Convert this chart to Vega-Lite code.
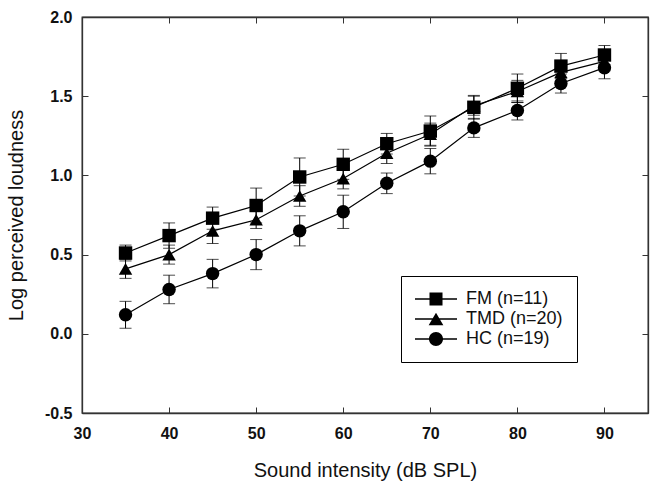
{
  "$schema": "https://vega.github.io/schema/vega-lite/v6.json",
  "width": 566,
  "height": 396,
  "autosize": "none",
  "padding": {"left": 82, "top": 17, "right": 14, "bottom": 73},
  "background": "white",
  "config": {
    "view": {"stroke": "#333333", "strokeWidth": 1.3},
    "font": "Liberation Sans",
    "axis": {
      "grid": false,
      "domainColor": "#333333",
      "domainWidth": 1.3,
      "tickColor": "#333333",
      "tickWidth": 1,
      "labelFlush": false,
      "labelOverlap": false,
      "labelFont": "Liberation Sans",
      "labelFontSize": 16,
      "labelFontWeight": "bold",
      "labelColor": "#111111",
      "titleFont": "Liberation Sans",
      "titleFontSize": 20,
      "titleFontWeight": "normal",
      "titleColor": "#111111"
    }
  },
  "data": {
    "values": [
      {"dB": 35, "group": "FM (n=11)", "value": 0.51, "err": 0.05},
      {"dB": 40, "group": "FM (n=11)", "value": 0.62, "err": 0.08},
      {"dB": 45, "group": "FM (n=11)", "value": 0.73, "err": 0.07},
      {"dB": 50, "group": "FM (n=11)", "value": 0.81, "err": 0.11},
      {"dB": 55, "group": "FM (n=11)", "value": 0.99, "err": 0.12},
      {"dB": 60, "group": "FM (n=11)", "value": 1.07, "err": 0.095},
      {"dB": 65, "group": "FM (n=11)", "value": 1.2, "err": 0.065},
      {"dB": 70, "group": "FM (n=11)", "value": 1.28, "err": 0.095},
      {"dB": 75, "group": "FM (n=11)", "value": 1.43, "err": 0.075},
      {"dB": 80, "group": "FM (n=11)", "value": 1.55, "err": 0.09},
      {"dB": 85, "group": "FM (n=11)", "value": 1.69, "err": 0.08},
      {"dB": 90, "group": "FM (n=11)", "value": 1.76, "err": 0.06},
      {"dB": 35, "group": "TMD (n=20)", "value": 0.41, "err": 0.06},
      {"dB": 40, "group": "TMD (n=20)", "value": 0.5, "err": 0.06},
      {"dB": 45, "group": "TMD (n=20)", "value": 0.65, "err": 0.08},
      {"dB": 50, "group": "TMD (n=20)", "value": 0.72, "err": 0.055},
      {"dB": 55, "group": "TMD (n=20)", "value": 0.87, "err": 0.065},
      {"dB": 60, "group": "TMD (n=20)", "value": 0.98, "err": 0.065},
      {"dB": 65, "group": "TMD (n=20)", "value": 1.14, "err": 0.065},
      {"dB": 70, "group": "TMD (n=20)", "value": 1.26, "err": 0.07},
      {"dB": 75, "group": "TMD (n=20)", "value": 1.44, "err": 0.06},
      {"dB": 80, "group": "TMD (n=20)", "value": 1.53, "err": 0.07},
      {"dB": 85, "group": "TMD (n=20)", "value": 1.65, "err": 0.07},
      {"dB": 90, "group": "TMD (n=20)", "value": 1.72, "err": 0.06},
      {"dB": 35, "group": "HC (n=19)", "value": 0.12, "err": 0.085},
      {"dB": 40, "group": "HC (n=19)", "value": 0.28, "err": 0.09},
      {"dB": 45, "group": "HC (n=19)", "value": 0.38, "err": 0.09},
      {"dB": 50, "group": "HC (n=19)", "value": 0.5, "err": 0.095},
      {"dB": 55, "group": "HC (n=19)", "value": 0.65, "err": 0.095},
      {"dB": 60, "group": "HC (n=19)", "value": 0.77, "err": 0.105},
      {"dB": 65, "group": "HC (n=19)", "value": 0.95, "err": 0.065},
      {"dB": 70, "group": "HC (n=19)", "value": 1.09, "err": 0.08},
      {"dB": 75, "group": "HC (n=19)", "value": 1.3, "err": 0.06},
      {"dB": 80, "group": "HC (n=19)", "value": 1.41, "err": 0.06},
      {"dB": 85, "group": "HC (n=19)", "value": 1.58, "err": 0.06},
      {"dB": 90, "group": "HC (n=19)", "value": 1.68, "err": 0.07}
    ]
  },
  "resolve": {"scale": {"x": "independent", "y": "independent", "shape": "independent"}, "axis": {"x": "independent", "y": "independent"}, "legend": {"shape": "independent"}},
  "layer": [
    {
      "mark": {"type": "errorbar", "ticks": {"size": 12, "color": "black"}, "color": "black", "thickness": 1},
      "encoding": {
        "x": {
          "field": "dB", "type": "quantitative",
          "scale": {"domain": [30, 95], "nice": false, "zero": false},
          "axis": null
        },
        "y": {
          "field": "value", "type": "quantitative",
          "scale": {"domain": [-0.5, 2.0], "nice": false, "zero": false},
          "axis": null
        },
        "yError": {"field": "err"}
      }
    },
    {
      "mark": {"type": "line", "color": "black", "strokeWidth": 1.2},
      "encoding": {
        "x": {
          "field": "dB", "type": "quantitative",
          "scale": {"domain": [30, 95], "nice": false, "zero": false},
          "axis": {"orient": "bottom", "title": "Sound intensity (dB SPL)", "values": [30, 40, 50, 60, 70, 80, 90], "tickSize": -6, "labelPadding": 18, "titlePadding": 19}
        },
        "y": {
          "field": "value", "type": "quantitative",
          "scale": {"domain": [-0.5, 2.0], "nice": false, "zero": false},
          "axis": {"orient": "left", "title": "Log perceived loudness", "values": [-0.5, 0, 0.5, 1, 1.5, 2], "tickSize": -6, "labelPadding": 16, "titlePadding": 18,
            "labelExpr": "datum.value < 0 ? '-' + format(-datum.value, '.1f') : format(datum.value, '.1f')"}
        },
        "detail": {"field": "group"}
      }
    },
    {
      "mark": {"type": "point", "filled": true, "color": "black", "opacity": 1, "size": 180},
      "encoding": {
        "x": {
          "field": "dB", "type": "quantitative",
          "scale": {"domain": [30, 95], "nice": false, "zero": false},
          "axis": {"orient": "top", "labels": true, "labelExpr": "''", "domainColor": "#333333", "tickColor": "#333333", "title": null, "values": [30, 40, 50, 60, 70, 80, 90], "tickSize": -6}
        },
        "y": {
          "field": "value", "type": "quantitative",
          "scale": {"domain": [-0.5, 2.0], "nice": false, "zero": false},
          "axis": {"orient": "right", "labels": true, "labelExpr": "''", "domainColor": "#333333", "tickColor": "#333333", "title": null, "values": [-0.5, 0, 0.5, 1, 1.5, 2], "tickSize": -6}
        },
        "shape": {
          "field": "group", "type": "nominal",
          "scale": {"domain": ["FM (n=11)", "TMD (n=20)", "HC (n=19)"], "range": ["square", "triangle-up", "circle"]},
          "legend": null
        }
      }
    },
    {
      "transform": [{"filter": "datum.dB < 0"}],
      "mark": {"type": "point", "filled": true, "fill": "black", "stroke": "black", "strokeWidth": 1, "opacity": 1, "size": 196},
      "encoding": {
        "x": {"field": "dB", "type": "quantitative", "scale": {"domain": [30, 95], "nice": false, "zero": false}, "axis": null},
        "y": {"field": "value", "type": "quantitative", "scale": {"domain": [-0.5, 2.0], "nice": false, "zero": false}, "axis": null},
        "shape": {
          "field": "group", "type": "nominal",
          "scale": {
            "domain": ["FM (n=11)", "TMD (n=20)", "HC (n=19)"],
            "range": [
              "M-3,-0.09H3V0.09H-3ZM-0.93,-0.93H0.93V0.93H-0.93Z",
              "M-3,-0.09H3V0.09H-3ZM0,-0.9L1.05,0.9H-1.05Z",
              "M-3,-0.09H3V0.09H-3ZM1,0A1,1,0,1,1,-1,0A1,1,0,1,1,1,0Z"
            ]
          },
          "legend": {
            "orient": "none", "legendX": 319, "legendY": 259,
            "title": null,
            "strokeColor": "black",
            "fillColor": "white",
            "padding": 14,
            "labelFont": "Liberation Sans",
            "labelFontSize": 18,
            "labelColor": "#111111",
            "symbolSize": 196,
            "symbolOffset": 12,
            "labelOffset": 21,
            "rowPadding": 2,
            "symbolFillColor": "black",
            "symbolStrokeColor": "black",
            "symbolStrokeWidth": 0.5,
            "symbolOpacity": 1
          }
        }
      }
    }
  ]
}
